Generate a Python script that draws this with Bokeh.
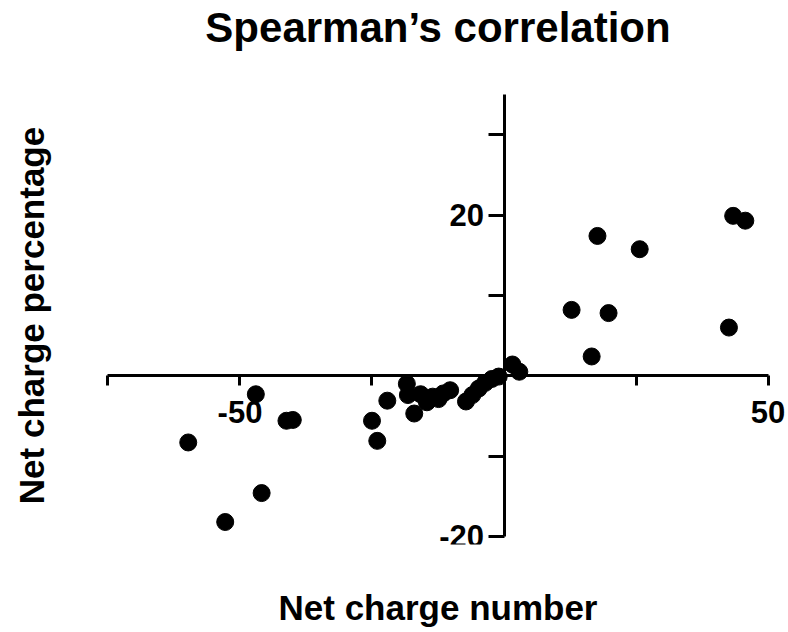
from bokeh.plotting import figure
from bokeh.models import LinearAxis, FixedTicker, Range1d, ColumnDataSource
from bokeh.embed import file_html
from bokeh.resources import INLINE

# Net charge number (x) and net charge percentage (y)
net_charge_number = [
    43.4, 45.7, 17.7, 25.7, 12.8, 19.8, 42.6, 16.6, 1.6, 2.9,
    -18.4, -18.2, -17.0, -15.8, -14.6, -13.5, -12.4, -11.5, -10.2,
    -7.2, -6.0, -4.8, -3.6, -2.3, -1.0,
    -22.1, -25.0, -24.0, -47.0, -59.8, -41.2, -40.0, -45.9, -52.8,
]
net_charge_percentage = [
    19.9, 19.3, 17.4, 15.75, 8.2, 7.8, 6.0, 2.4, 1.4, 0.5,
    -1.0, -2.4, -4.7, -2.3, -3.3, -2.6, -2.9, -2.2, -1.8,
    -3.2, -2.4, -1.6, -0.9, -0.4, -0.1,
    -3.1, -5.6, -8.1, -2.3, -8.3, -5.6, -5.5, -14.6, -18.2,
]

x_ticks = [-75, -50, -25, 0, 25, 50]
x_tick_labels = {-50: "-50", 50: "50"}
y_ticks = [-20, -10, 0, 10, 20, 30]
y_tick_labels = {-20: "-20", 20: "20"}

title_text = "Spearman\u2019s correlation"
x_label = "Net charge number"
y_label = "Net charge percentage"

FONT = "Liberation Sans"

src = ColumnDataSource(dict(x=net_charge_number, y=net_charge_percentage))

p = figure(width=786, height=630, output_backend="svg", toolbar_location=None,
           x_range=Range1d(-78.5, 53.5), y_range=Range1d(-21, 36),
           x_axis_type=None, y_axis_type=None,
           min_border_left=89, min_border_right=0,
           min_border_top=86, min_border_bottom=86)
p.outline_line_color = None
p.background_fill_color = "white"
p.border_fill_color = "white"

p.scatter("x", "y", source=src, size=17, color="black")


def style_axis(ax, tick_out):
    ax.axis_line_width = 3
    ax.axis_line_color = "black"
    ax.major_tick_line_width = 3
    ax.major_tick_line_color = "black"
    ax.major_tick_in = 0
    ax.major_tick_out = tick_out
    ax.minor_tick_line_color = None
    ax.major_label_text_font = FONT
    ax.major_label_text_font_style = "bold"
    ax.major_label_text_font_size = "31px"
    ax.major_label_text_color = "black"


# Axes crossing at the origin
xaxis = LinearAxis(fixed_location=0, ticker=FixedTicker(ticks=x_ticks),
                   bounds=(x_ticks[0], x_ticks[-1]),
                   major_label_overrides={t: x_tick_labels.get(t, "") for t in x_ticks})
style_axis(xaxis, 10)
xaxis.major_label_standoff = 15
p.add_layout(xaxis, "below")

yaxis = LinearAxis(fixed_location=0, ticker=FixedTicker(ticks=y_ticks),
                   bounds=(y_ticks[0], 35),
                   major_label_overrides={t: y_tick_labels.get(t, "") for t in y_ticks})
style_axis(yaxis, 16)
yaxis.major_label_standoff = 4
p.add_layout(yaxis, "left")


# Label-only axes on the outside, carrying the title and axis titles
def label_axis(text, size, standoff):
    ax = LinearAxis(ticker=FixedTicker(ticks=[]), axis_label=text)
    ax.axis_line_color = None
    ax.major_tick_line_color = None
    ax.minor_tick_line_color = None
    ax.major_tick_out = 0
    ax.major_label_standoff = 0
    ax.axis_label_standoff = standoff
    ax.axis_label_text_font = FONT
    ax.axis_label_text_font_style = "bold"
    ax.axis_label_text_font_size = size
    ax.axis_label_text_color = "black"
    return ax


p.add_layout(label_axis(title_text, "42px", 36), "above")
p.add_layout(label_axis(x_label, "35px", 43), "below")
p.add_layout(label_axis(y_label, "35px", 39), "left")

open("out.html", "w").write(file_html(p, INLINE))
